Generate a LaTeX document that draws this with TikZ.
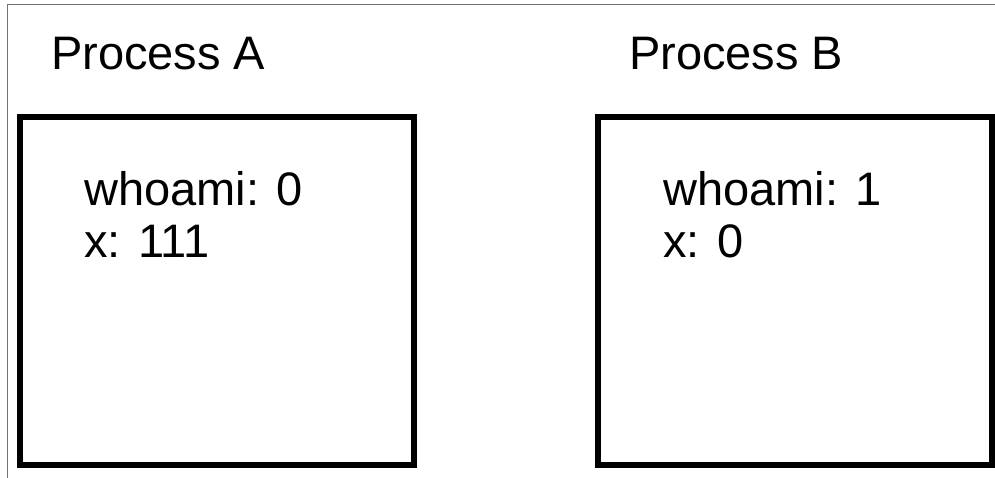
\documentclass[tikz,border=0pt]{standalone}
\usepackage{fontspec}
\setmainfont{Liberation Sans}
\begin{document}
\begin{tikzpicture}[x=1pt,y=-1pt,
  procbox/.style={draw=black,line width=6pt,rectangle,inner sep=0pt,outer sep=0pt,minimum width=394pt,minimum height=347.5pt,anchor=north west},
  lbl/.style={anchor=base west,inner sep=0pt,font=\fontsize{47}{52}\selectfont},
  frameline/.style={draw=black!55,line width=1pt}]
\useasboundingbox (0,0) rectangle (995,478);
\fill[white] (0,0) rectangle (995,478);
\coordinate (fa) at (7,478);
\coordinate (fb) at (7,5);
\coordinate (fc) at (995,5);
\draw[frameline] (fa) -- (fb) -- (fc);
\node[lbl] (titleA) at (51,70) {Process A};
\node[lbl] (titleB) at (629,70) {Process B};
\node[procbox] (boxA) at (20,117.5) {};
\node[procbox] (boxB) at (598,117.5) {};
\node[lbl] (whoA) at (84,206) {whoami: 0};
\node[lbl] (xA) at (84,258) {x: 111};
\node[lbl] (whoB) at (663,206) {whoami: 1};
\node[lbl] (xB) at (663,258) {x: 0};
\end{tikzpicture}
\end{document}
